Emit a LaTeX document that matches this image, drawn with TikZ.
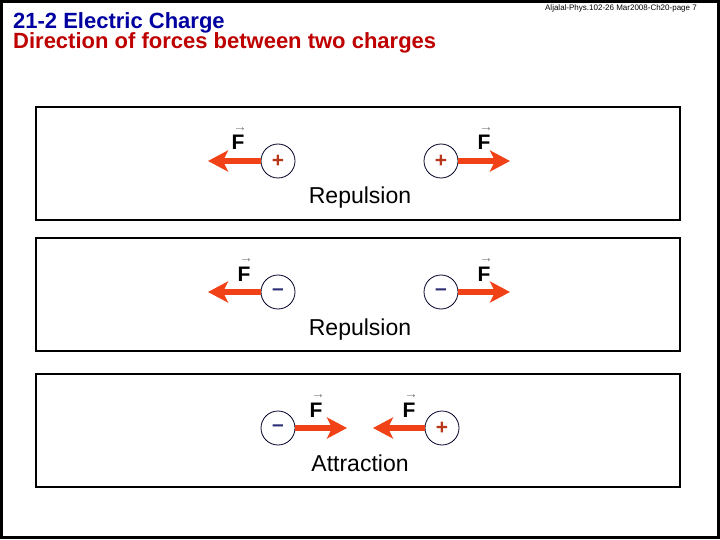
\documentclass[tikz,border=0pt]{standalone}
\usepackage{fontspec}
\setmainfont{Liberation Sans}
\usetikzlibrary{arrows.meta}
\definecolor{titleblue}{RGB}{0,0,160}
\definecolor{titlered}{RGB}{190,0,0}
\definecolor{forcered}{RGB}{240,66,22}
\definecolor{plusred}{RGB}{185,55,25}
\definecolor{minusblue}{RGB}{45,45,115}
\tikzset{force/.style={-{Stealth[length=20pt,width=21pt,inset=5pt]},line width=5.5pt,forcered},
         charge/.style={circle,draw=black!85!blue,line width=.8pt,minimum size=34pt,inner sep=0pt,
           font=\fontsize{21}{21}\selectfont\bfseries},
         panel/.style={draw,line width=1.3pt},
         flabel/.style={anchor=base,inner sep=0pt,font=\fontsize{21}{21}\selectfont\bfseries,
           label={[text=gray,inner sep=0pt,yshift=4pt,xshift=2pt,font=\fontsize{14}{14}\selectfont]above:→}},
         caption/.style={anchor=base,font=\fontsize{23}{23}\selectfont}}

\begin{document}
\begin{tikzpicture}[x=1pt,y=-1pt]
  \useasboundingbox (0,0) rectangle (720,540);
  \draw[line width=3pt] (1.5,1.5) rectangle (718,537.5);
  % heading
  \node[anchor=base west,inner sep=0pt,text=titleblue,font=\fontsize{22}{22}\selectfont\bfseries]
    (title) at (13,29) {21-2 Electric Charge};
  \node[anchor=base west,inner sep=0pt,text=titlered,font=\fontsize{22}{22}\selectfont\bfseries]
    (subtitle) at (13,49) {Direction of forces between two charges};
  \node[anchor=base east,inner sep=0pt,font=\fontsize{8}{8}\selectfont]
    (footer) at (697,11) {Aljalal-Phys.102-26 Mar2008-Ch20-page 7};
  % panels
  \draw[panel] (36,107) rectangle (680,220);
  \draw[panel] (36,238) rectangle (680,351);
  \draw[panel] (36,374) rectangle (680,487);
  % two positive charges
  \node[charge,text=plusred] (pa) at (278,161) {+};
  \node[charge,text=plusred] (pb) at (441,161) {+};
  \coordinate (pa-tip) at (208,161);
  \coordinate (pb-tip) at (510,161);
  \draw[force] (pa) -- (pa-tip);
  \draw[force] (pb) -- (pb-tip);
  \node[flabel] (fpa) at (238,150) {F};
  \node[flabel] (fpb) at (484,150) {F};
  \node[caption] (rep1) at (360,204) {Repulsion};
  % two negative charges
  \node[charge,text=minusblue] (na) at (278,292) {–};
  \node[charge,text=minusblue] (nb) at (441,292) {–};
  \coordinate (na-tip) at (208,292);
  \coordinate (nb-tip) at (510,292);
  \draw[force] (na) -- (na-tip);
  \draw[force] (nb) -- (nb-tip);
  \node[flabel] (fna) at (244,281) {F};
  \node[flabel] (fnb) at (484,281) {F};
  \node[caption] (rep2) at (360,335) {Repulsion};
  % opposite charges
  \node[charge,text=minusblue] (ma) at (278,428) {–};
  \node[charge,text=plusred] (mb) at (442,428) {+};
  \coordinate (ma-tip) at (347,428);
  \coordinate (mb-tip) at (373,428);
  \draw[force] (ma) -- (ma-tip);
  \draw[force] (mb) -- (mb-tip);
  \node[flabel] (fma) at (316,417) {F};
  \node[flabel] (fmb) at (409,417) {F};
  \node[caption] (att) at (360,471) {Attraction};
\end{tikzpicture}
\end{document}
